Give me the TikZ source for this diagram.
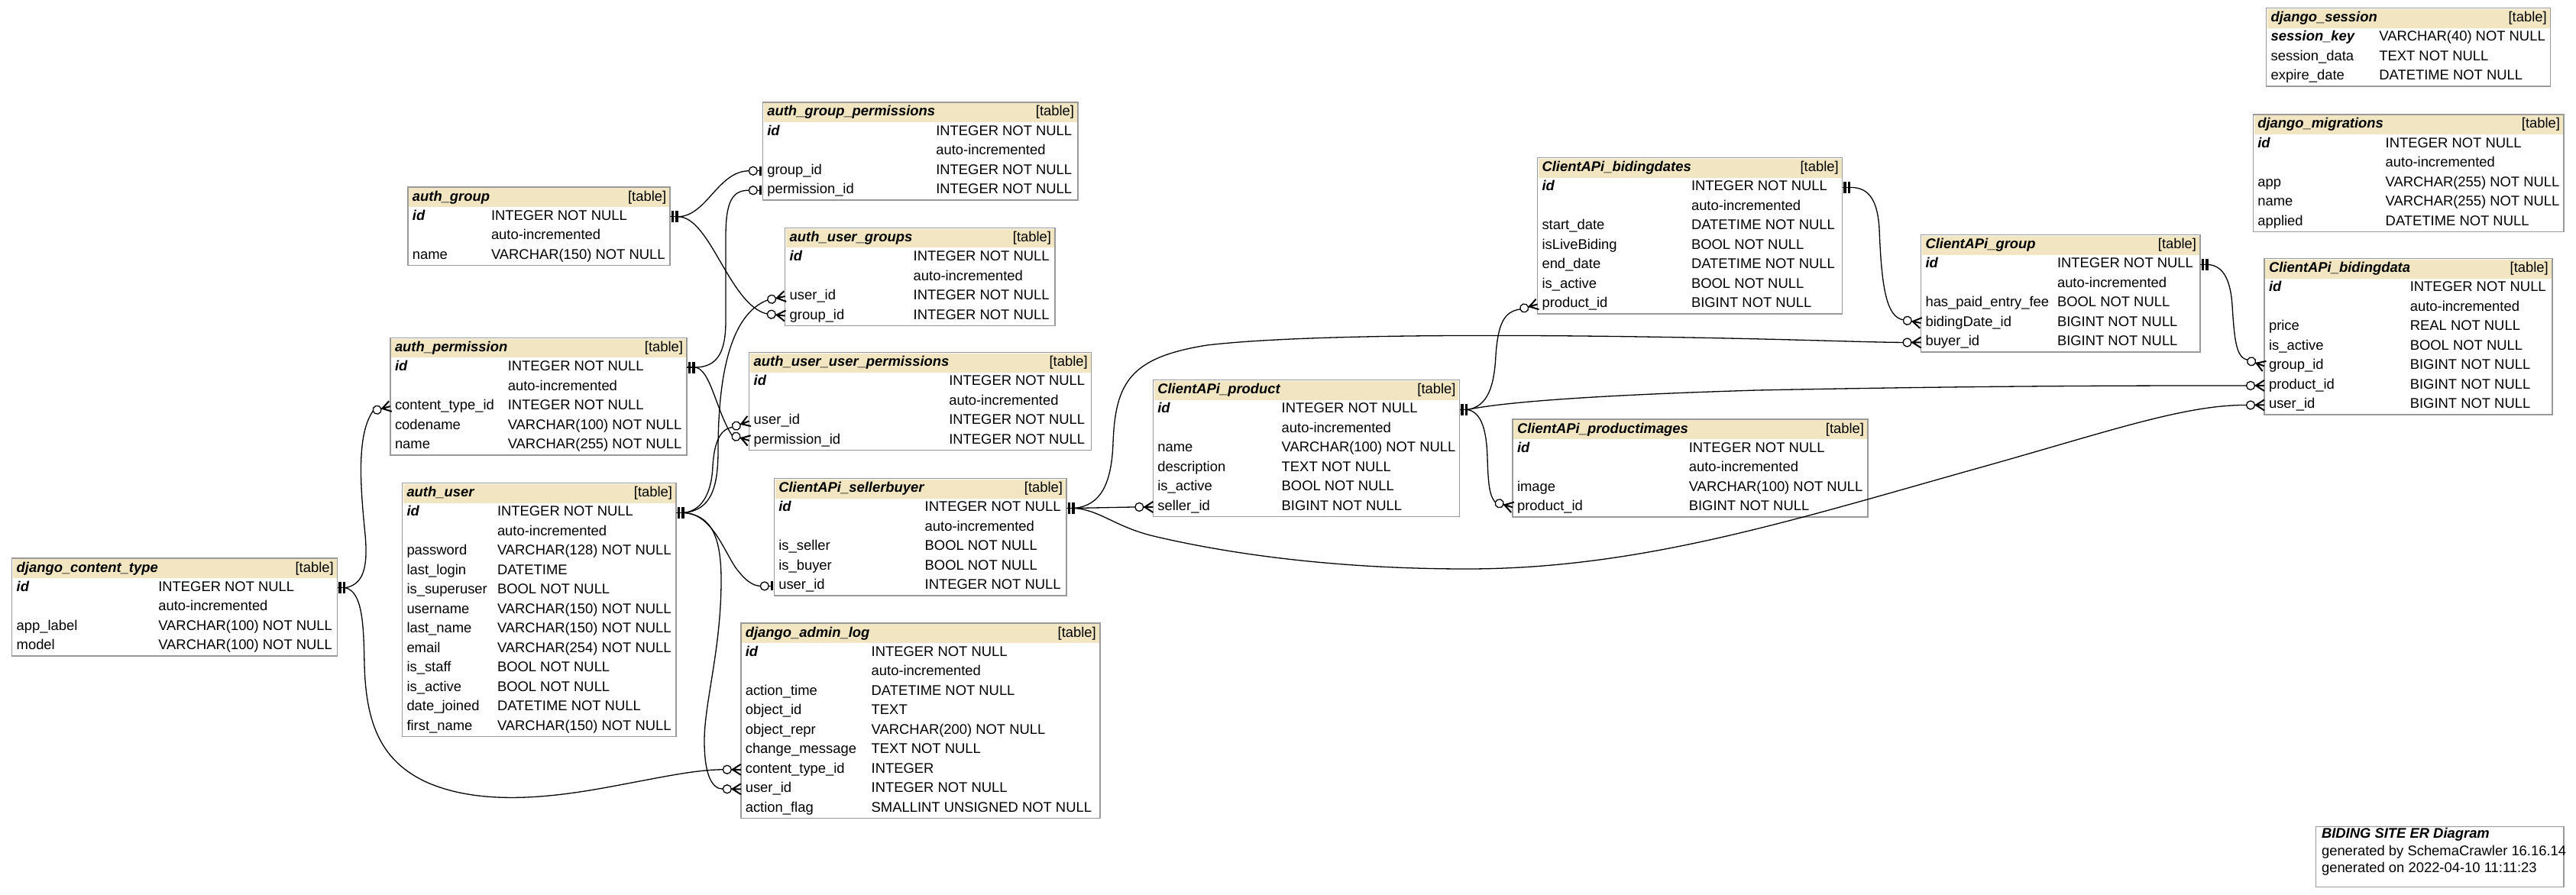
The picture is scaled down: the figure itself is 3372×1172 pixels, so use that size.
\documentclass[tikz,border=0pt]{standalone}
\usepackage{fontspec}
\setmainfont{Liberation Sans}
\usetikzlibrary{calc}
\definecolor{hdr}{HTML}{F2E6C2}
\definecolor{bordergray}{HTML}{999999}
\newcommand\pkf[1]{\textbf{\textit{#1}}}
\tikzset{
  tblbox/.style={draw=bordergray, line width=0.75pt, inner sep=0pt, outer sep=0pt, fill=white},
  hdrfill/.style={fill=hdr},
  cell/.style={inner sep=0pt, outer sep=0pt, font=\fontsize{9.2pt}{11pt}\selectfont},
  ttl/.style={inner sep=0pt, outer sep=0pt, font=\fontsize{9.2pt}{11pt}\selectfont\bfseries\itshape},
  ink/.style={fill=black},
  rel/.style={draw=black, line width=0.65pt},
}
\newcommand\ertable[8]{%
  \pgfmathsetmacro\erw{(#4-(#2))*0.5}%
  \pgfmathsetmacro\erh{(26+25.5*#7)*0.5}%
  \node[tblbox, minimum width=\erw pt, minimum height=\erh pt, anchor=north west] (#1) at (#2,#3) {};
  \fill[hdrfill] (#2+1.2,#3+1.2) rectangle (#4-1.2,#3+26);
  \node[ttl, anchor=base west] (#1-title) at (#2+6,#3+18) {#6};
  \node[cell, anchor=base east] (#1-tag) at (#4-5,#3+18) {[table]};
  \foreach \rn/\rt [count=\ri from 0] in {#8} {
    \pgfmathsetmacro\erc{#3+38.75+25.5*\ri}
    \coordinate (#1-L\ri) at (#2,\erc);
    \coordinate (#1-R\ri) at (#4,\erc);
    \node[cell, anchor=base west] (#1-n\ri) at (#2+6,\erc+4.5) {\rn};
    \node[cell, anchor=base west] (#1-t\ri) at (#5,\erc+4.5) {\rt};
  }
}
\newcommand\pkmark[1]{%
  \fill[ink] ($(#1-R0)+(1.5,-7.5)$) rectangle ($(#1-R0)+(5,7.5)$);
  \fill[ink] ($(#1-R0)+(7,-7.5)$) rectangle ($(#1-R0)+(10.5,7.5)$);
  \coordinate (#1-pk) at ($(#1-R0)+(10.5,0)$);
  \draw[rel] (#1-R0) -- (#1-pk);
}
\newcommand\fkmany[3][0]{%
  \begin{scope}[shift={(#2-L#3)}, rotate=#1]
    \draw[rel, line width=1pt] (-11,0) -- (0,-7) (-11,0) -- (0,7) (-12.5,0) -- (0,0);
    \draw[rel, fill=white] (-18,0) circle[radius=2.75pt];
    \coordinate (#2-fk#3) at (-23.5,0);
  \end{scope}
}
\newcommand\fkone[3][0]{%
  \begin{scope}[shift={(#2-L#3)}, rotate=#1]
    \fill[ink] (-4.5,-6) rectangle (-1,6);
    \draw[rel] (-7.5,0) -- (-4.5,0);
    \draw[rel, fill=white] (-12.5,0) circle[radius=2.75pt];
    \coordinate (#2-fk#3) at (-18,0);
  \end{scope}
}
\begin{document}
\begin{tikzpicture}[x=0.5pt, y=-0.5pt]
\fill[white] (0,0) rectangle (3372,1172);
\useasboundingbox (0,0) rectangle (3372,1172);

% ---------- tables ----------
\ertable{dct}{15.7}{731}{441.7}{207.3}{django\_content\_type}{4}{\pkf{id}/INTEGER NOT NULL,
 /auto-incremented,
 app\_label/VARCHAR(100) NOT NULL,
 model/VARCHAR(100) NOT NULL}

\ertable{ag}{533.9}{245}{877.2}{643}{auth\_group}{3}{\pkf{id}/INTEGER NOT NULL,
 /auto-incremented,
 name/VARCHAR(150) NOT NULL}

\ertable{ap}{511}{442.3}{899}{664.8}{auth\_permission}{5}{\pkf{id}/INTEGER NOT NULL,
 /auto-incremented,
 content\_type\_id/INTEGER NOT NULL,
 codename/VARCHAR(100) NOT NULL,
 name/VARCHAR(255) NOT NULL}

\ertable{au}{526.5}{632.7}{885}{651}{auth\_user}{12}{\pkf{id}/INTEGER NOT NULL,
 /auto-incremented,
 password/VARCHAR(128) NOT NULL,
 last\_login/DATETIME,
 is\_superuser/BOOL NOT NULL,
 username/VARCHAR(150) NOT NULL,
 last\_name/VARCHAR(150) NOT NULL,
 email/VARCHAR(254) NOT NULL,
 is\_staff/BOOL NOT NULL,
 is\_active/BOOL NOT NULL,
 date\_joined/DATETIME NOT NULL,
 first\_name/VARCHAR(150) NOT NULL}

\ertable{agp}{998.3}{134}{1411}{1225.3}{auth\_group\_permissions}{4}{\pkf{id}/INTEGER NOT NULL,
 /auto-incremented,
 group\_id/INTEGER NOT NULL,
 permission\_id/INTEGER NOT NULL}

\ertable{aug}{1027.7}{298.3}{1381}{1195.7}{auth\_user\_groups}{4}{\pkf{id}/INTEGER NOT NULL,
 /auto-incremented,
 user\_id/INTEGER NOT NULL,
 group\_id/INTEGER NOT NULL}

\ertable{auup}{980.7}{461.7}{1428.7}{1242.3}{auth\_user\_user\_permissions}{4}{\pkf{id}/INTEGER NOT NULL,
 /auto-incremented,
 user\_id/INTEGER NOT NULL,
 permission\_id/INTEGER NOT NULL}

\ertable{sb}{1013.3}{626.7}{1396}{1210.7}{ClientAPi\_sellerbuyer}{5}{\pkf{id}/INTEGER NOT NULL,
 /auto-incremented,
 is\_seller/BOOL NOT NULL,
 is\_buyer/BOOL NOT NULL,
 user\_id/INTEGER NOT NULL}

\ertable{dal}{969.8}{816}{1439.8}{1140.7}{django\_admin\_log}{9}{\pkf{id}/INTEGER NOT NULL,
 /auto-incremented,
 action\_time/DATETIME NOT NULL,
 object\_id/TEXT,
 object\_repr/VARCHAR(200) NOT NULL,
 change\_message/TEXT NOT NULL,
 content\_type\_id/INTEGER,
 user\_id/INTEGER NOT NULL,
 action\_flag/SMALLINT UNSIGNED NOT NULL}

\ertable{prod}{1509.3}{497.7}{1910.5}{1677.7}{ClientAPi\_product}{6}{\pkf{id}/INTEGER NOT NULL,
 /auto-incremented,
 name/VARCHAR(100) NOT NULL,
 description/TEXT NOT NULL,
 is\_active/BOOL NOT NULL,
 seller\_id/BIGINT NOT NULL}

\ertable{pimg}{1980}{549}{2445}{2210.8}{ClientAPi\_productimages}{4}{\pkf{id}/INTEGER NOT NULL,
 /auto-incremented,
 image/VARCHAR(100) NOT NULL,
 product\_id/BIGINT NOT NULL}

\ertable{bdates}{2012.5}{206.7}{2411.7}{2214}{ClientAPi\_bidingdates}{7}{\pkf{id}/INTEGER NOT NULL,
 /auto-incremented,
 start\_date/DATETIME NOT NULL,
 isLiveBiding/BOOL NOT NULL,
 end\_date/DATETIME NOT NULL,
 is\_active/BOOL NOT NULL,
 product\_id/BIGINT NOT NULL}

\ertable{cgrp}{2514.5}{307.7}{2880}{2693}{ClientAPi\_group}{5}{\pkf{id}/INTEGER NOT NULL,
 /auto-incremented,
 has\_paid\_entry\_fee/BOOL NOT NULL,
 bidingDate\_id/BIGINT NOT NULL,
 buyer\_id/BIGINT NOT NULL}

\ertable{bdata}{2964}{338.7}{3340.8}{3154.8}{ClientAPi\_bidingdata}{7}{\pkf{id}/INTEGER NOT NULL,
 /auto-incremented,
 price/REAL NOT NULL,
 is\_active/BOOL NOT NULL,
 group\_id/BIGINT NOT NULL,
 product\_id/BIGINT NOT NULL,
 user\_id/BIGINT NOT NULL}

\ertable{dsess}{2966.7}{10.7}{3338.7}{3114.3}{django\_session}{3}{\pkf{session\_key}/VARCHAR(40) NOT NULL,
 session\_data/TEXT NOT NULL,
 expire\_date/DATETIME NOT NULL}

\ertable{dmig}{2949.3}{150}{3356}{3122.7}{django\_migrations}{5}{\pkf{id}/INTEGER NOT NULL,
 /auto-incremented,
 app/VARCHAR(255) NOT NULL,
 name/VARCHAR(255) NOT NULL,
 applied/DATETIME NOT NULL}

% legend
\node[tblbox, minimum width=162.15pt, minimum height=39.5pt, anchor=north west] (legend) at (3031.7,1082.3) {};
\node[ttl, anchor=base west] (legend-t) at (3039,1097.3) {BIDING SITE ER Diagram};
\node[cell, anchor=base west] (legend-a) at (3039,1120.7) {generated by SchemaCrawler 16.16.14};
\node[cell, anchor=base west] (legend-b) at (3039,1142.7) {generated on 2022-04-10 11:11:23};

% ---------- relationship ends ----------
\pkmark{dct}\pkmark{ag}\pkmark{ap}\pkmark{au}\pkmark{sb}\pkmark{prod}\pkmark{bdates}\pkmark{cgrp}
\fkone{agp}{2}
\fkone{agp}{3}
\fkmany[12]{aug}{2}
\fkmany[-6]{aug}{3}
\fkmany[20]{auup}{2}
\fkmany[-17]{auup}{3}
\fkmany[15]{ap}{2}
\fkone{sb}{4}
\fkmany{dal}{6}
\fkmany{dal}{7}
\fkmany{prod}{5}
\fkmany[-16]{pimg}{3}
\fkmany[16]{bdates}{6}
\fkmany[-10]{cgrp}{3}
\fkmany{cgrp}{4}
\fkmany[-20]{bdata}{4}
\fkmany{bdata}{5}
\fkmany{bdata}{6}

% ---------- connectors ----------
\draw[rel] (ag-pk) .. controls (925,283) and (940,224) .. (agp-fk2);
\draw[rel] (ag-pk) .. controls (930,284) and (955,400) .. (aug-fk3);
\draw[rel] (ap-pk) .. controls (940,481) and (950,460) .. (950,420) -- (950,310) .. controls (950,265) and (958,249) .. (agp-fk3);
\draw[rel] (ap-pk) .. controls (930,482) and (938,540) .. (auup-fk3);
\draw[rel] (au-pk) .. controls (930,668) and (940,640) .. (940,590) .. controls (940,480) and (960,410) .. (aug-fk2);
\draw[rel] (au-pk) .. controls (922,668) and (932,640) .. (933,610) .. controls (935,580) and (942,562) .. (auup-fk2);
\draw[rel] (au-pk) .. controls (930,673) and (945,715) .. (962,742) .. controls (975,760) and (985,767) .. (sb-fk4);
\draw[rel] (au-pk) .. controls (930,675) and (944,700) .. (944,760) .. controls (944,850) and (922,920) .. (922,970) .. controls (922,1015) and (932,1033) .. (dal-fk7);
\draw[rel] (dct-pk) .. controls (475,765) and (482,745) .. (478,700) .. controls (472,640) and (466,570) .. (ap-fk2);
\draw[rel] (dct-pk) .. controls (475,775) and (476,820) .. (477,870) .. controls (479,950) and (500,998) .. (560,1025) .. controls (630,1055) and (720,1045) .. (800,1030) .. controls (870,1017) and (910,1008) .. (dal-fk6);
\draw[rel] (sb-pk) -- (prod-fk5);
\draw[rel] (sb-pk) .. controls (1440,662) and (1455,635) .. (1457,580) .. controls (1460,500) and (1480,468) .. (1580,452) .. controls (1700,438) and (1950,438) .. (2150,441) .. controls (2350,444) and (2430,448) .. (cgrp-fk4);
\draw[rel] (sb-pk) .. controls (1440,668) and (1460,690) .. (1510,702) .. controls (1620,728) and (1760,745) .. (1920,745) .. controls (2150,745) and (2350,680) .. (2600,610) .. controls (2760,565) and (2860,530) .. (bdata-fk6);
\draw[rel] (prod-pk) .. controls (1948,532) and (1956,505) .. (1958,465) .. controls (1961,425) and (1968,408) .. (bdates-fk6);
\draw[rel] (prod-pk) .. controls (1940,540) and (1946,565) .. (1947,600) .. controls (1948,635) and (1950,650) .. (pimg-fk3);
\draw[rel] (prod-pk) .. controls (1970,526) and (2100,517) .. (2300,511) .. controls (2600,505) and (2800,505) .. (bdata-fk5);
\draw[rel] (bdates-pk) .. controls (2448,245) and (2458,265) .. (2460,300) .. controls (2463,380) and (2470,415) .. (cgrp-fk3);
\draw[rel] (cgrp-pk) .. controls (2912,348) and (2920,370) .. (2922,400) .. controls (2925,450) and (2928,468) .. (bdata-fk4);
\end{tikzpicture}
\end{document}
